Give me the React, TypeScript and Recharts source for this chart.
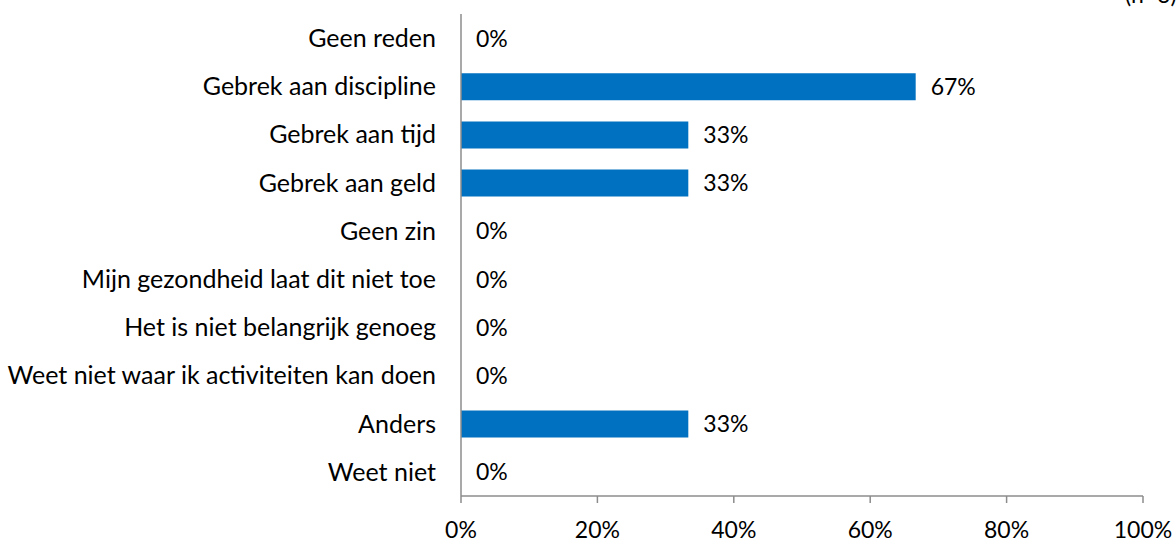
import React from "react";
import { BarChart, Bar, XAxis, YAxis, LabelList } from "recharts";

const categories = [
  "Geen reden",
  "Gebrek aan discipline",
  "Gebrek aan tijd",
  "Gebrek aan geld",
  "Geen zin",
  "Mijn gezondheid laat dit niet toe",
  "Het is niet belangrijk genoeg",
  "Weet niet waar ik activiteiten kan doen",
  "Anders",
  "Weet niet",
];
const values = [0, 66.67, 33.33, 33.33, 0, 0, 0, 0, 33.33, 0];
const xTicks = [0, 20, 40, 60, 80, 100];
const note = "(n=3)";

const data = categories.map((name, i) => ({ name, value: values[i] }));

const FONT = "Lato, 'Open Sans', sans-serif";

export default function App() {
  return (
    <div style={{ position: "absolute", left: 0, top: 0, width: 1176, height: 542, background: "#fff", fontFamily: FONT, overflow: "hidden" }}>
      <BarChart
        width={1176}
        height={542}
        data={data}
        layout="vertical"
        margin={{ top: 14, right: 33, bottom: 0, left: 0 }}
      >
        <XAxis
          type="number"
          domain={[0, 100]}
          ticks={xTicks}
          tickFormatter={(v) => `${v}%`}
          height={46}
          axisLine={{ stroke: "#8c8c8c", strokeWidth: 1.5 }}
          tickLine={{ stroke: "#8c8c8c", strokeWidth: 1.5 }}
          tickSize={7}
          tickMargin={19}
          tick={{ fill: "#000", fontSize: 23, fontFamily: FONT }}
          interval={0}
        />
        <YAxis
          type="category"
          dataKey="name"
          width={461}
          axisLine={{ stroke: "#8c8c8c", strokeWidth: 1.5 }}
          tickLine={false}
          tickSize={0}
          tickMargin={25}
          interval={0}
          tick={{ fill: "#000", fontSize: 25, fontFamily: FONT }}
        />
        <Bar dataKey="value" fill="#0070C0" barSize={27} minPointSize={0.01} isAnimationActive={false}>
          <LabelList
            dataKey="value"
            position="right"
            offset={15}
            formatter={(v: any) => `${Math.round(Number(v))}%`}
            style={{ fill: "#000", fontSize: 23, fontFamily: FONT }}
          />
        </Bar>
      </BarChart>
      <div style={{ position: "absolute", left: 1125, top: -17, fontSize: 23, lineHeight: "23px", color: "#000", whiteSpace: "nowrap" }}>
        {note}
      </div>
    </div>
  );
}
